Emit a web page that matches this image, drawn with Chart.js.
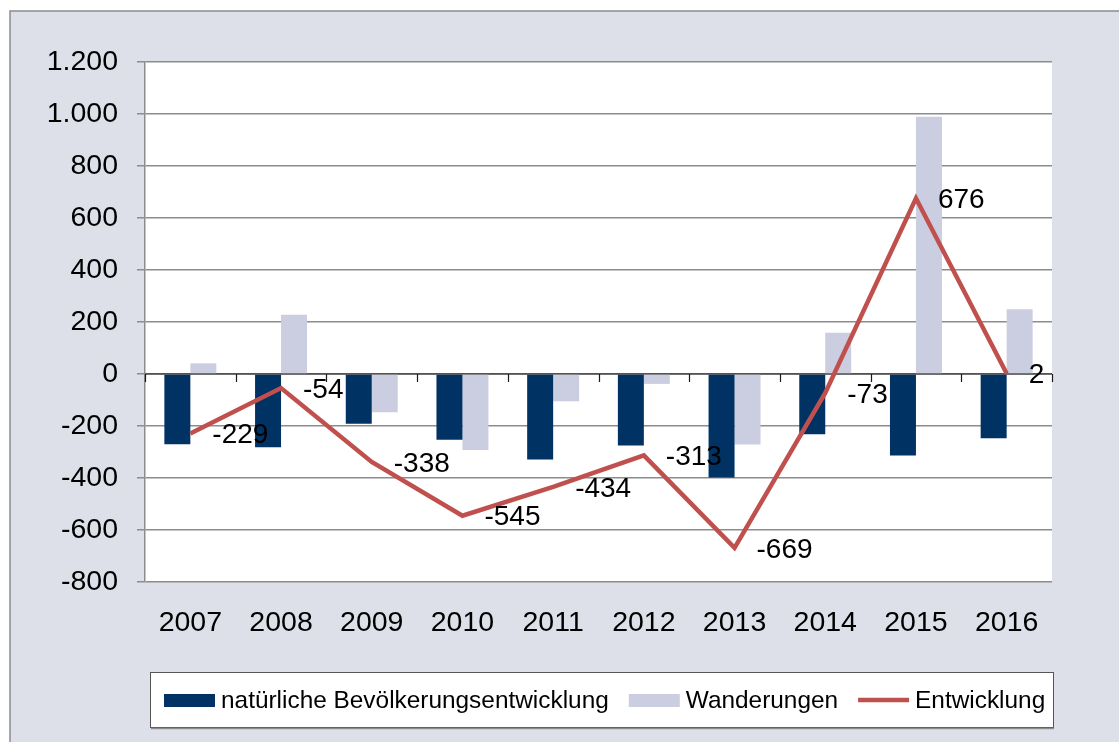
<!DOCTYPE html>
<html lang="de">
<head>
<meta charset="utf-8">
<script src="https://cdn.jsdelivr.net/npm/chart.js@4/dist/chart.umd.min.js"></script>
<style>
    html, body { margin: 0; padding: 0; background: #ffffff; }
    canvas { display: block; }
</style>
</head>
<body>
<canvas id="chart" width="1119" height="742"></canvas>
<script>
// Daten
const jahre = ['2007', '2008', '2009', '2010', '2011', '2012', '2013', '2014', '2015', '2016'];
const natuerlich = [-270, -282, -191, -253, -329, -275, -398, -232, -313, -247];
const wanderungen = [41, 228, -147, -292, -105, -38, -271, 159, 989, 249];
const entwicklung = [-229, -54, -338, -545, -434, -313, -669, -73, 676, 2];
const yMin = -800;
const yMax = 1200;
const yStep = 200;

const FONT = '"Liberation Sans", Arial, sans-serif';

// Tausenderpunkt wie im Original
function formatDe(v) {
    return String(v).replace(/\B(?=(\d{3})+(?!\d))/g, '.');
}

// Hintergrund und Rahmen
const hintergrund = {
    id: 'hintergrund',
    beforeDraw(chart) {
        const c = chart.ctx;
        const a = chart.chartArea;
        c.save();
        c.fillStyle = '#ffffff';
        c.fillRect(0, 0, chart.width, chart.height);
        c.fillStyle = '#dde0e8';
        c.fillRect(10, 11, chart.width - 10, chart.height - 11);
        c.strokeStyle = '#8c8c8c';
        c.lineWidth = 1.5;
        c.beginPath();
        c.moveTo(10, chart.height);
        c.lineTo(10, 11);
        c.lineTo(chart.width, 11);
        c.stroke();
        c.fillStyle = '#ffffff';
        c.fillRect(a.left, a.top, a.right - a.left, a.bottom - a.top);
        c.restore();
    }
};

// Nulllinie mit Teilstrichen zwischen den Kategorien
const nullachse = {
    id: 'nullachse',
    beforeDatasetsDraw(chart) {
        const c = chart.ctx;
        const a = chart.chartArea;
        const y0 = chart.scales.y.getPixelForValue(0);
        const breite = (a.right - a.left) / jahre.length;
        c.save();
        c.strokeStyle = '#1a1a1a';
        c.lineWidth = 1.2;
        c.beginPath();
        c.moveTo(a.left, y0);
        c.lineTo(a.right, y0);
        for (let i = 0; i <= jahre.length; i++) {
            const x = Math.round(a.left + i * breite) + 0.5;
            c.moveTo(x, y0);
            c.lineTo(x, y0 + 8);
        }
        c.stroke();
        c.restore();
    }
};

// Datenbeschriftung der Linie
const beschriftung = {
    id: 'beschriftung',
    afterDatasetsDraw(chart) {
        const c = chart.ctx;
        const meta = chart.getDatasetMeta(2);
        c.save();
        c.fillStyle = '#000000';
        c.font = '28px ' + FONT;
        c.textAlign = 'left';
        c.textBaseline = 'middle';
        meta.data.forEach((pt, i) => {
            c.fillText(String(entwicklung[i]), pt.x + 22, pt.y + 2);
        });
        c.restore();
    }
};

// Legende im Kasten unten
const legende = {
    id: 'legende',
    afterDraw(chart) {
        const c = chart.ctx;
        c.save();
        c.fillStyle = '#ffffff';
        c.fillRect(150, 672, 904, 56);
        c.strokeStyle = '#555555';
        c.lineWidth = 1;
        c.strokeRect(150.5, 672.5, 903, 55);
        c.strokeStyle = '#8c8c8c';
        c.lineWidth = 1.5;
        c.beginPath();
        c.moveTo(151, 728.5);
        c.lineTo(1054, 728.5);
        c.stroke();

        c.font = '24.4px ' + FONT;
        c.textBaseline = 'middle';
        c.textAlign = 'left';
        let x = 164;
        const yMitte = 700;
        chart.data.datasets.forEach(ds => {
            if (ds.type === 'line') {
                c.strokeStyle = ds.borderColor;
                c.lineWidth = 4.5;
                c.beginPath();
                c.moveTo(x, yMitte);
                c.lineTo(x + 51, yMitte);
                c.stroke();
            } else {
                c.fillStyle = ds.backgroundColor;
                c.fillRect(x, yMitte - 6, 51, 13);
            }
            x += 57;
            c.fillStyle = '#000000';
            c.fillText(ds.label, x, yMitte + 1);
            x += c.measureText(ds.label).width + 20;
        });
        c.restore();
    }
};

new Chart(document.getElementById('chart'), {
    data: {
        labels: jahre,
        datasets: [
            {
                type: 'bar',
                label: 'natürliche Bevölkerungsentwicklung',
                data: natuerlich,
                backgroundColor: '#003263',
                categoryPercentage: 0.573,
                barPercentage: 1.0,
                order: 2
            },
            {
                type: 'bar',
                label: 'Wanderungen',
                data: wanderungen,
                backgroundColor: '#cbcde0',
                categoryPercentage: 0.573,
                barPercentage: 1.0,
                order: 2
            },
            {
                type: 'line',
                label: 'Entwicklung',
                data: entwicklung,
                borderColor: '#c0504d',
                backgroundColor: '#c0504d',
                borderWidth: 4.5,
                pointRadius: 0,
                tension: 0,
                order: 1
            }
        ]
    },
    options: {
        responsive: false,
        animation: false,
        layout: {
            padding: { top: 62, right: 67, bottom: 0, left: 0 }
        },
        plugins: {
            legend: { display: false },
            tooltip: { enabled: false },
            title: { display: false }
        },
        scales: {
            x: {
                offset: true,
                grid: { display: false },
                border: { display: false },
                ticks: {
                    color: '#000000',
                    font: { family: FONT, size: 28.5 },
                    padding: 16,
                    maxRotation: 0
                },
                afterFit(scale) {
                    scale.height = 160;
                }
            },
            y: {
                min: yMin,
                max: yMax,
                grid: {
                    color: '#8c8c8c',
                    lineWidth: 1.5,
                    tickLength: 8
                },
                border: { display: true, color: '#8c8c8c', width: 1.5 },
                ticks: {
                    stepSize: yStep,
                    color: '#000000',
                    font: { family: FONT, size: 28.5 },
                    padding: 19,
                    callback: v => formatDe(v)
                },
                afterFit(scale) {
                    scale.width = 145;
                }
            }
        }
    },
    plugins: [hintergrund, nullachse, beschriftung, legende]
});
</script>
</body>
</html>
